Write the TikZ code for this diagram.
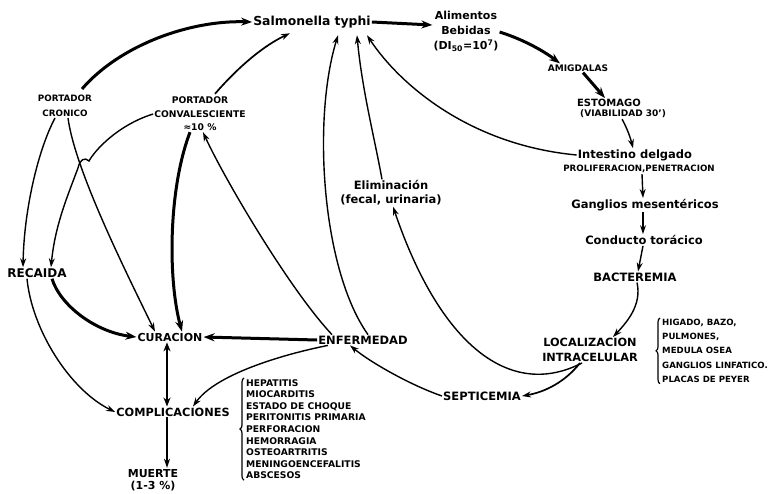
\documentclass[tikz,border=0pt]{standalone}
\usepackage{fontspec}
\setmainfont{DejaVu Sans}
\usetikzlibrary{arrows.meta,calc,decorations.pathreplacing}
\tikzset{
  every node/.style={inner sep=1pt},
  txt/.style={font=\bfseries\fontsize{11.5}{14}\selectfont, align=center},
  sm/.style={font=\bfseries\fontsize{9}{14}\selectfont, align=center},
  lst/.style={font=\bfseries\fontsize{9}{11.6}\selectfont, align=left, anchor=north west},
  arr/.style={-{Stealth[length=9pt,width=6pt]}, line width=1.4pt},
  tarr/.style={-{Stealth[length=11pt,width=8pt]}, line width=3pt},
  dbl/.style={{Stealth[length=9pt,width=7pt]}-{Stealth[length=9pt,width=7pt]}, line width=2.2pt},
  brc/.style={line width=1.2pt, decorate, decoration={brace, amplitude=4pt}},
}
\begin{document}
\begin{tikzpicture}[x=1pt,y=-1pt]
\useasboundingbox (0,0) rectangle (776,493);
\fill[white] (0,0) rectangle (776,493);

% nodes
\node[txt, font=\bfseries\fontsize{12.4}{14}\selectfont] (sal) at (312,22) {Salmonella typhi};
\node[txt, font=\bfseries\fontsize{11}{15}\selectfont] (ali) at (466,31) {Alimentos\\Bebidas\\(DI\textsubscript{50}=10\textsuperscript{7})};
\node[sm] (amig) at (578,68) {AMIGDALAS};
\node[txt, font=\bfseries\fontsize{10}{12}\selectfont] (esto) at (609,103) {ESTOMAGO};
\node[sm, anchor=west] (viab) at (579,114) {(VIABILIDAD 30')};
\node[txt] (intes) at (635,155) {Intestino delgado};
\node[sm, font=\bfseries\fontsize{8.7}{10}\selectfont] (prolif) at (639,169) {PROLIFERACION,PENETRACION};
\node[txt] (gang) at (645,205) {Ganglios mesentéricos};
\node[txt] (cond) at (644,240) {Conducto torácico};
\node[txt] (bact) at (635,277) {BACTEREMIA};
\node[txt, font=\bfseries\fontsize{11.3}{15}\selectfont] (loc) at (590,350) {LOCALIZACION\\INTRACELULAR};
\node[lst, font=\bfseries\fontsize{8.6}{14.2}\selectfont] (org) at (661,318) {HIGADO, BAZO,\\PULMONES,\\MEDULA OSEA\\GANGLIOS LINFATICO.\\PLACAS DE PEYER};
\node[txt] (sept) at (482,396) {SEPTICEMIA};
\node[txt] (enf) at (363,340) {ENFERMEDAD};
\node[txt] (elim) at (391,193) {Eliminación\\(fecal, urinaria)};
\node[txt, font=\bfseries\fontsize{11}{13}\selectfont] (cur) at (170,337) {CURACION};
\node[txt, font=\bfseries\fontsize{11.3}{13}\selectfont] (comp) at (173,412) {COMPLICACIONES};
\node[lst, font=\bfseries\fontsize{9.2}{11.6}\selectfont] (cl) at (245,378) {HEPATITIS\\MIOCARDITIS\\ESTADO DE CHOQUE\\PERITONITIS PRIMARIA\\PERFORACION\\HEMORRAGIA\\OSTEOARTRITIS\\MENINGOENCEFALITIS\\ABSCESOS};
\node[txt, font=\bfseries\fontsize{11}{12.5}\selectfont] (muerte) at (153,480) {MUERTE\\(1-3 \%)};
\node[txt, font=\bfseries\fontsize{12}{13}\selectfont] (rec) at (37,273) {RECAIDA};
\node[sm, font=\bfseries\fontsize{8.8}{15}\selectfont] (cron) at (65,106) {PORTADOR\\CRONICO};
\node[sm, font=\bfseries\fontsize{9.2}{13.5}\selectfont] (conv) at (200,114) {PORTADOR\\CONVALESCIENTE\\≈10 \%};

% braces
\draw[brc] ($(cl.south west)+(-1,0)$) -- ($(cl.north west)+(-1,0)$);
\draw[brc] ($(org.south west)+(-1,0)$) -- ($(org.north west)+(-1,0)$);

% connectors
\draw[tarr] ($(cron.north)+(17,-5)$) .. controls (120,45) and (190,20) .. (sal.west);
\draw[arr, line width=1.7pt] ($(conv.north)+(15,-2)$) .. controls (240,65) and (265,45) .. ($(sal.south)+(-22,4)$);
\draw[tarr] (sal.east) -- ($(ali.west)+(0,-6)$);
\draw[tarr] ($(ali.east)+(0,1)$) .. controls (525,40) and (545,52) .. ($(amig.north)+(-18,0)$);
\draw[tarr] ($(amig.south)+(5,0)$) -- ($(esto.north)+(-4,0)$);
\draw[arr] ($(viab.south)+(-1,0)$) .. controls (628,130) and (631,140) .. ($(intes.north)+(-2,0)$);
\draw[arr] (intes.west) .. controls (470,145) and (400,85) .. ($(sal.south)+(55,6)$);
\draw[arr] ($(prolif.south)+(3,0)$) -- ($(gang.north)+(-2,0)$);
\draw[arr] ($(gang.south)+(-2,0)$) -- ($(cond.north)+(-1,0)$);
\draw[arr] ($(cond.south)+(-1,0)$) -- ($(bact.north)+(3,0)$);
\draw[arr] ($(bact.south)+(2,0)$) .. controls (642,305) and (627,322) .. ($(loc.north)+(23,0)$);
\draw[arr, line width=1.7pt] ($(loc.south)+(-10,0)$) .. controls (565,382) and (545,392) .. (sept.east);
\draw[arr] ($(loc.south)+(-8,0)$) .. controls (510,400) and (440,345) .. ($(elim.south)+(2,0)$);
\draw[arr] ($(elim.north)+(-9,0)$) .. controls (375,140) and (362,90) .. ($(sal.south)+(45,6)$);
\draw[arr] (sept.west) .. controls (410,385) and (370,362) .. ($(enf.south)+(-13,0)$);
\draw[arr] ($(enf.north)+(5,0)$) .. controls (322,270) and (312,120) .. ($(sal.south)+(26,6)$);
\draw[arr] ($(enf.north)+(-31,0)$) .. controls (290,290) and (225,180) .. ($(conv.south)+(3,0)$);
\draw[tarr] (enf.west) -- (cur.east);
\draw[arr] ($(enf.south)+(-35,0)$) .. controls (280,355) and (215,375) .. ($(comp.north)+(20,0)$);
\draw[dbl] ($(cur.south)+(-3,0)$) -- ($(comp.north)+(-6,0)$);
\draw[arr, line width=1.7pt] ($(comp.south)+(-6,0)$) -- ($(muerte.north)+(14,0)$);
\draw[tarr] ($(rec.south)+(15,0)$) .. controls (60,305) and (95,332) .. (cur.west);
\draw[arr] ($(rec.south)+(-10,0)$) .. controls (32,330) and (70,390) .. (comp.west);
\draw[arr] ($(cron.south)+(-10,0)$) .. controls (38,150) and (24,210) .. ($(rec.north)+(-14,0)$);
\draw[arr] ($(cron.south)+(3,0)$) .. controls (75,170) and (125,270) .. ($(cur.north)+(-15,0)$);
\draw[tarr] ($(conv.south)+(-10,0)$) .. controls (168,190) and (168,280) .. ($(cur.north)+(12,0)$);
\draw[arr] (conv.west) .. controls (118,125) and (95,150) .. (89,161)
   .. controls (85,157) and (80,159) .. (78,168)
   .. controls (68,195) and (55,225) .. ($(rec.north)+(14,0)$);
\end{tikzpicture}
\end{document}
